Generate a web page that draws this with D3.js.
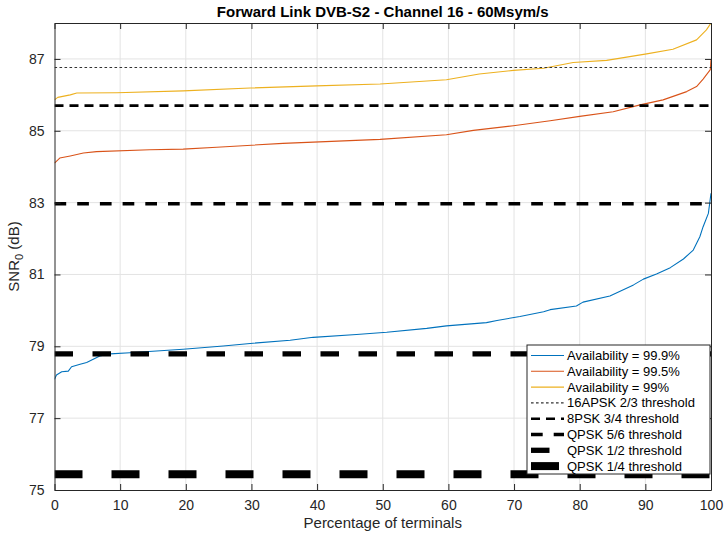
<!DOCTYPE html>
<html>
<head>
<meta charset="utf-8">
<script src="https://cdn.jsdelivr.net/npm/d3@7"></script>
<style>
  body { margin: 0; background: #fff; }
  text { font-family: "Liberation Sans", Arial, Helvetica, sans-serif; }
</style>
</head>
<body>
<svg id="chart" width="724" height="535"></svg>
<script>
// Sorted SNR0 per terminal percentile, one pair of arrays per availability target
const pct999 = [0, 0.3, 1.1, 2.1, 2.6, 3.9, 4.9, 5.9, 6.9, 8.5, 11.5, 19.6, 25.7, 29.8, 35.9, 39.4, 46.0, 50.6, 56.7, 59.7, 65.8, 67.4, 70.9, 74.5, 75.5, 79.5, 80.5, 84.6, 88.2, 89.7, 91.7, 93.8, 95.8, 97.3, 98.3, 98.8, 99.6, 100];
const snr999 = [78.08, 78.20, 78.29, 78.31, 78.43, 78.50, 78.55, 78.64, 78.73, 78.79, 78.82, 78.92, 79.01, 79.08, 79.17, 79.25, 79.33, 79.39, 79.50, 79.57, 79.66, 79.72, 79.83, 79.96, 80.02, 80.12, 80.23, 80.40, 80.71, 80.87, 81.01, 81.19, 81.43, 81.68, 82.05, 82.33, 82.70, 83.26];

const pct995 = [0, 0.8, 2.4, 4.4, 6.4, 14.5, 19.6, 24.7, 34.8, 49.6, 59.7, 63.8, 69.9, 75.5, 80.0, 85.1, 89.2, 92.7, 96.3, 97.8, 98.8, 99.9, 100];
const snr995 = [84.10, 84.24, 84.30, 84.38, 84.42, 84.47, 84.49, 84.54, 84.65, 84.76, 84.89, 85.01, 85.14, 85.28, 85.40, 85.53, 85.72, 85.86, 86.09, 86.23, 86.44, 86.70, 87.00];

const pct99 = [0, 0.5, 2.4, 3.4, 9.5, 19.6, 29.8, 39.9, 49.6, 59.7, 64.7, 69.9, 74.5, 79.0, 84.1, 90.2, 94.2, 97.8, 99.3, 100];
const snr99 = [85.86, 85.93, 86.00, 86.05, 86.06, 86.11, 86.19, 86.25, 86.30, 86.42, 86.58, 86.68, 86.74, 86.90, 86.96, 87.14, 87.27, 87.53, 87.81, 88.00];

// Required SNR0 for each MODCOD
const thresholdNames = ["16APSK 2/3 threshold", "8PSK 3/4 threshold", "QPSK 5/6 threshold", "QPSK 1/2 threshold", "QPSK 1/4 threshold"];
const thresholdValues = [86.76, 85.70, 82.97, 78.79, 75.44];

const curveNames = ["Availability = 99.9%", "Availability = 99.5%", "Availability = 99%"];
const xTicks = [0, 10, 20, 30, 40, 50, 60, 70, 80, 90, 100];
const yTicks = [75, 77, 79, 81, 83, 85, 87];

// Drawing styles
const curveColors = ["#0072BD", "#D95319", "#EDB120"];
const thrStyles = [
  { w: 1.1, dash: "2.6,2.4", color: "#333" },
  { w: 2.6, dash: "9,6", color: "#000" },
  { w: 3.6, dash: "11.7,11", color: "#000" },
  { w: 5.3, dash: "18.5,19.5", color: "#000" },
  { w: 8, dash: "28,29", color: "#000" }
];

const svg = d3.select("#chart");
const m = { left: 54.5, right: 711, top: 23, bottom: 490 };

const x = d3.scaleLinear().domain([0, 100]).range([m.left, m.right]);
const y = d3.scaleLinear().domain([75, 88]).range([m.bottom, m.top]);

svg.append("defs").append("clipPath").attr("id", "plotClip")
  .append("rect").attr("x", m.left).attr("y", m.top)
  .attr("width", m.right - m.left).attr("height", m.bottom - m.top);

// Grid
const grid = svg.append("g").attr("stroke", "#e3e3e3").attr("stroke-width", 1);
grid.selectAll("line.gx").data(xTicks.slice(1, -1)).join("line")
  .attr("x1", d => x(d)).attr("x2", d => x(d)).attr("y1", m.top).attr("y2", m.bottom);
grid.selectAll("line.gy").data(yTicks.slice(1)).join("line")
  .attr("y1", d => y(d)).attr("y2", d => y(d)).attr("x1", m.left).attr("x2", m.right);

const plot = svg.append("g").attr("clip-path", "url(#plotClip)");

const line = d3.line().x(d => x(d[0])).y(d => y(d[1]));
const series = [
  d3.zip(pct999, snr999),
  d3.zip(pct995, snr995),
  d3.zip(pct99, snr99)
];
series.forEach((s, i) => {
  plot.append("path").datum(s).attr("d", line)
    .attr("fill", "none").attr("stroke", curveColors[i]).attr("stroke-width", 1.1)
    .attr("stroke-linejoin", "round");
});

thresholdValues.forEach((v, i) => {
  const st = thrStyles[i];
  plot.append("line")
    .attr("x1", x(0)).attr("x2", x(100)).attr("y1", y(v)).attr("y2", y(v))
    .attr("stroke", st.color).attr("stroke-width", st.w).attr("stroke-dasharray", st.dash);
});

// Axes (box with inward ticks on all four sides)
const axisColor = "#262626";
const tickLen = 6;
const axes = svg.append("g");

const xAxisB = d3.axisBottom(x).tickValues(xTicks).tickSizeInner(-tickLen).tickSizeOuter(0).tickPadding(10);
const xAxisT = d3.axisTop(x).tickValues(xTicks).tickSizeInner(-tickLen).tickSizeOuter(0).tickFormat("");
const yAxisL = d3.axisLeft(y).tickValues(yTicks).tickSizeInner(-tickLen).tickSizeOuter(0).tickPadding(10);
const yAxisR = d3.axisRight(y).tickValues(yTicks).tickSizeInner(-tickLen).tickSizeOuter(0).tickFormat("");

function styleAxis(g) {
  g.select(".domain").attr("stroke", axisColor).attr("stroke-width", 1);
  g.selectAll(".tick line").attr("stroke", axisColor).attr("stroke-width", 1);
  g.selectAll(".tick text").attr("fill", axisColor)
    .style("font-family", "'Liberation Sans', Arial, sans-serif").style("font-size", "14px");
}

axes.append("g").attr("transform", `translate(0,${m.bottom})`).call(xAxisB).call(styleAxis);
axes.append("g").attr("transform", `translate(0,${m.top})`).call(xAxisT).call(styleAxis);
axes.append("g").attr("transform", `translate(${m.left},0)`).call(yAxisL).call(styleAxis);
axes.append("g").attr("transform", `translate(${m.right},0)`).call(yAxisR).call(styleAxis);

// Title and axis labels
svg.append("text").attr("x", (m.left + m.right) / 2).attr("y", 17)
  .attr("text-anchor", "middle").attr("font-weight", "bold").attr("font-size", 15)
  .attr("fill", "#000").text("Forward Link DVB-S2 - Channel 16 - 60Msym/s");

svg.append("text").attr("x", (m.left + m.right) / 2).attr("y", 528)
  .attr("text-anchor", "middle").attr("font-size", 15).attr("fill", axisColor)
  .text("Percentage of terminals");

const yl = svg.append("text")
  .attr("transform", `translate(19,${(m.top + m.bottom) / 2}) rotate(-90)`)
  .attr("text-anchor", "middle").attr("font-size", 15).attr("fill", axisColor);
yl.append("tspan").text("SNR");
yl.append("tspan").attr("font-size", 11).attr("dy", 4).text("0");
yl.append("tspan").attr("dy", -4).text(" (dB)");

// Legend
const lg = { x: 527, y: 345, w: 183, h: 129, row: 15.8, first: 10.5 };
const legend = svg.append("g");
legend.append("rect").attr("x", lg.x).attr("y", lg.y).attr("width", lg.w).attr("height", lg.h)
  .attr("fill", "#fff").attr("stroke", axisColor).attr("stroke-width", 1);

const legendItems = curveNames.map((n, i) => ({ name: n, color: curveColors[i], w: 1.1, dash: null }))
  .concat(thresholdNames.map((n, i) => ({ name: n, color: thrStyles[i].color, w: thrStyles[i].w, dash: thrStyles[i].dash })));

legendItems.forEach((it, i) => {
  const yy = lg.y + lg.first + i * lg.row;
  legend.append("line").attr("x1", lg.x + 4).attr("x2", lg.x + 37).attr("y1", yy).attr("y2", yy)
    .attr("stroke", it.color).attr("stroke-width", it.w)
    .attr("stroke-dasharray", it.dash);
  legend.append("text").attr("x", lg.x + 40).attr("y", yy + 4.5)
    .attr("font-size", 13).attr("fill", "#000").text(it.name);
});
</script>
</body>
</html>
